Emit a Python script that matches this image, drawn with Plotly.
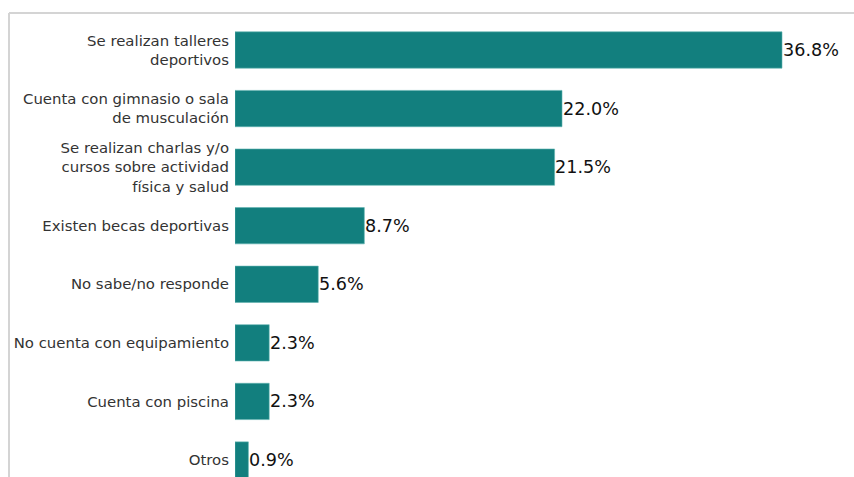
import plotly.graph_objects as go

# Survey categories (top to bottom) and their shares in percent
categories = [
    "Se realizan talleres<br>deportivos",
    "Cuenta con gimnasio o sala<br>de musculación",
    "Se realizan charlas y/o<br>cursos sobre actividad<br>física y salud",
    "Existen becas deportivas",
    "No sabe/no responde",
    "No cuenta con equipamiento",
    "Cuenta con piscina",
    "Otros",
]
values = [36.8, 22.0, 21.5, 8.7, 5.6, 2.3, 2.3, 0.9]
value_labels = [f"{v:.1f}%" for v in values]

W, H = 854, 477
left_m, top_m = 9, 13
axis_x0 = 235  # pixel where bars start
px_per_unit = (782 - axis_x0) / 36.8

positions = list(range(len(categories)))

fig = go.Figure()
fig.add_trace(go.Bar(
    x=values,
    y=positions,
    orientation="h",
    width=0.62,
    marker=dict(color="#127f7e", line=dict(color="#5fb3b0", width=0.6)),
    hoverinfo="skip",
))

for p, v, lab in zip(positions, values, value_labels):
    fig.add_annotation(
        x=v, y=p, xref="x", yref="y", text=lab, showarrow=False,
        xanchor="left", yanchor="middle", xshift=-1.5,
        font=dict(family="DejaVu Sans", size=17.6, color="#111111"),
    )

plot_w = W - left_m
dom0 = (axis_x0 - left_m) / plot_w
x_max = (W - axis_x0) / px_per_unit

# vertical placement: category 0 centred at y=50px, 58.6px per category
step = 58.6
y_top = -(50 - top_m) / step
y_bot = 7 + (H - 460) / step

fig.update_layout(
    width=W, height=H,
    margin=dict(l=left_m, r=0, t=top_m, b=0),
    paper_bgcolor="white", plot_bgcolor="white",
    showlegend=False,
    xaxis=dict(domain=[dom0, 1], range=[0, x_max], visible=False, fixedrange=True),
    yaxis=dict(
        range=[y_bot, y_top], tickmode="array", tickvals=positions, ticktext=categories,
        showgrid=False, zeroline=False, showline=False, ticks="",
        tickfont=dict(family="DejaVu Sans", size=14.9, color="#333333"),
        ticklabelstandoff=5, fixedrange=True,
    ),
    shapes=[
        dict(type="line", xref="paper", yref="paper", x0=0, x1=0, y0=0, y1=1,
             line=dict(color="#d4d4d4", width=2)),
        dict(type="line", xref="paper", yref="paper", x0=0, x1=1, y0=1, y1=1,
             line=dict(color="#d4d4d4", width=2)),
    ],
)

fig.write_html("out.html")
